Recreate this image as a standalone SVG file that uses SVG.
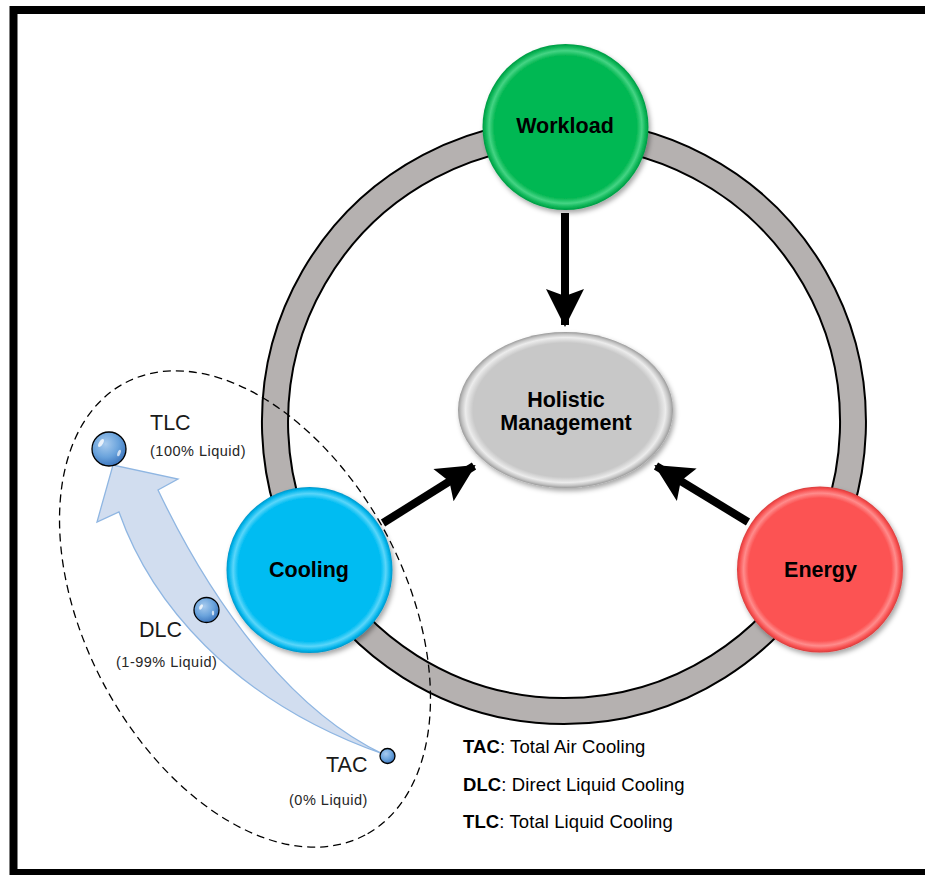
<svg xmlns="http://www.w3.org/2000/svg" width="925" height="875" viewBox="0 0 925 875">
<defs>
<style>
.lbl{font-family:"Liberation Sans",Arial,sans-serif;font-weight:bold;fill:#000;text-anchor:middle}
.node{font-size:21.5px}
.big{font-family:"Liberation Sans",Arial,sans-serif;font-size:21.5px;fill:#1a1a1a}
.small{font-family:"Liberation Sans",Arial,sans-serif;font-size:14.5px;fill:#262626;letter-spacing:0.5px}
.leg{font-family:"Liberation Sans",Arial,sans-serif;font-size:18.5px;fill:#000;letter-spacing:0.1px}
.conn{stroke:#000;stroke-width:8;fill:none}
.bub{stroke:#000;stroke-width:1.3}
</style>
<radialGradient id="gGreen" cx="0.5" cy="0.5" r="0.5">
<stop offset="0" stop-color="#05b853"/><stop offset="0.86" stop-color="#05b853"/><stop offset="0.92" stop-color="#45d484"/><stop offset="0.97" stop-color="#08b354"/><stop offset="1" stop-color="#039a44"/>
</radialGradient>
<radialGradient id="gBlue" cx="0.5" cy="0.5" r="0.5">
<stop offset="0" stop-color="#00bcf2"/><stop offset="0.86" stop-color="#00bcf2"/><stop offset="0.92" stop-color="#5ad6fa"/><stop offset="0.97" stop-color="#05b6ec"/><stop offset="1" stop-color="#0095c8"/>
</radialGradient>
<radialGradient id="gRed" cx="0.5" cy="0.5" r="0.5">
<stop offset="0" stop-color="#fc5252"/><stop offset="0.86" stop-color="#fc5252"/><stop offset="0.92" stop-color="#ff8c8c"/><stop offset="0.97" stop-color="#f85050"/><stop offset="1" stop-color="#d83c3c"/>
</radialGradient>
<radialGradient id="gGray" cx="0.5" cy="0.5" r="0.5">
<stop offset="0" stop-color="#c8c8c8"/><stop offset="0.86" stop-color="#c8c8c8"/><stop offset="0.93" stop-color="#ececec"/><stop offset="0.97" stop-color="#c4c4c4"/><stop offset="1" stop-color="#9a9a9a"/>
</radialGradient>
<radialGradient id="gBub" cx="0.4" cy="0.35" r="0.65">
<stop offset="0" stop-color="#a8cbee"/><stop offset="0.6" stop-color="#6aa3dc"/><stop offset="1" stop-color="#3f78bf"/>
</radialGradient>
<filter id="sh" x="-20%" y="-20%" width="140%" height="140%">
<feDropShadow dx="2" dy="3" stdDeviation="2.5" flood-color="#000" flood-opacity="0.35"/>
</filter>
<marker id="ah" markerUnits="userSpaceOnUse" viewBox="-40 -22 44 44" markerWidth="44" markerHeight="44" refX="0" refY="0" orient="auto">
<path d="M2,0 L-36,-19 L-29,0 L-36,19 Z" fill="#000"/>
</marker>
</defs>

<rect x="13.5" y="10" width="1000" height="863" fill="#fff" stroke="#000" stroke-width="8"/>

<g id="ring">
<path d="M564,120 A302,302 0 1,1 563.9,120 Z M564,146 A276,276 0 1,0 564.1,146 Z" fill="#b5b1b0" fill-rule="evenodd" stroke="#000" stroke-width="2"/>
</g>

<g id="cooling-range">
<ellipse cx="245" cy="609" rx="256" ry="160" transform="rotate(62 245 609)" fill="none" stroke="#000" stroke-width="1.3" stroke-dasharray="8 5"/>
<path d="M383,754 C300,715 220,620 158,490 L178,479 L113,465 L97,522 L119,512 C150,600 230,700 383,754 Z" fill="#d1ddef" stroke="#8fb6e2" stroke-width="1.3"/>
</g>

<g id="connectors">
<line class="conn" x1="565" y1="213" x2="565" y2="325" marker-end="url(#ah)"/>
<line class="conn" x1="383" y1="523" x2="474" y2="466" marker-end="url(#ah)"/>
<line class="conn" x1="748" y1="522" x2="656" y2="466" marker-end="url(#ah)"/>
</g>

<g id="holistic">
<ellipse cx="565.5" cy="410" rx="107.5" ry="78" fill="url(#gGray)" filter="url(#sh)"/>
<text class="lbl node" x="566" y="407">Holistic</text>
<text class="lbl node" x="566" y="430">Management</text>
</g>

<g id="workload">
<circle cx="565.5" cy="127" r="83" fill="url(#gGreen)" filter="url(#sh)"/>
<text class="lbl node" x="565" y="133">Workload</text>
</g>

<g id="cooling">
<circle cx="309.5" cy="570" r="83" fill="url(#gBlue)" filter="url(#sh)"/>
<text class="lbl node" x="309" y="577">Cooling</text>
</g>

<g id="energy">
<circle cx="820" cy="569.5" r="83" fill="url(#gRed)" filter="url(#sh)"/>
<text class="lbl node" x="820.5" y="577">Energy</text>
</g>

<g id="tlc">
<circle class="bub" cx="109" cy="449" r="17" fill="url(#gBub)"/>
<ellipse cx="101" cy="443" rx="2" ry="4.5" transform="rotate(30 101 443)" fill="#fff" opacity="0.8"/>
<ellipse cx="119" cy="453" rx="1.5" ry="3.5" transform="rotate(20 119 453)" fill="#fff" opacity="0.7"/>
<text class="big" x="150" y="430">TLC</text>
<text class="small" x="150" y="456">(100% Liquid)</text>
</g>

<g id="dlc">
<circle class="bub" cx="206.5" cy="610" r="12.5" fill="url(#gBub)"/>
<ellipse cx="201" cy="607" rx="1.5" ry="3" transform="rotate(30 201 607)" fill="#fff" opacity="0.8"/>
<ellipse cx="213" cy="613" rx="1.2" ry="2.5" fill="#fff" opacity="0.7"/>
<text class="big" x="139" y="637">DLC</text>
<text class="small" x="116" y="667">(1-99% Liquid)</text>
</g>

<g id="tac">
<circle class="bub" cx="387.5" cy="756" r="7.5" fill="url(#gBub)"/>
<text class="big" x="326" y="771.5">TAC</text>
<text class="small" x="289" y="805">(0% Liquid)</text>
</g>

<g id="legend">
<text class="leg" x="463" y="753"><tspan font-weight="bold">TAC</tspan>: Total Air Cooling</text>
<text class="leg" x="463" y="790.5"><tspan font-weight="bold">DLC</tspan>: Direct Liquid Cooling</text>
<text class="leg" x="463" y="828"><tspan font-weight="bold">TLC</tspan>: Total Liquid Cooling</text>
</g>
</svg>
